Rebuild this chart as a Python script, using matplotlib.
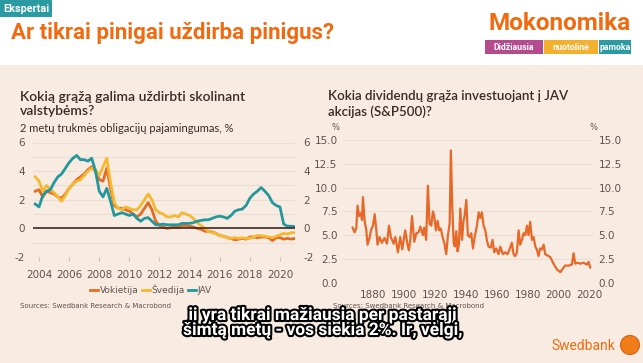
import numpy as np
import matplotlib
matplotlib.use('Agg')
import matplotlib.pyplot as plt
from matplotlib.patches import Rectangle, Circle
import matplotlib.patheffects as pe

plt.rcParams['axes.unicode_minus'] = False

# bond yields (2y), quarterly
bond_dates = np.arange(2003.75, 2021.01, 0.25)
germany = [2.6, 2.7, 2.2, 2.6, 2.5, 2.4, 2.2, 2.1, 2.4, 2.8, 3.1, 3.4, 3.6, 3.8, 4.1, 4.3, 4.0,
           3.4, 3.3, 4.2, 2.8, 1.6, 1.4, 1.4, 1.3, 1.2, 1.0, 0.8, 1.0, 1.4, 1.8, 1.3, 0.5,
           0.2, 0.1, 0.0, 0.05, 0.1, 0.05, 0.2, 0.2, 0.15, 0.1, 0.0, -0.05, -0.2, -0.2, -0.25,
           -0.35, -0.5, -0.55, -0.65, -0.7, -0.8, -0.75, -0.7, -0.75, -0.6, -0.6, -0.65, -0.6,
           -0.6, -0.65, -0.85, -0.65, -0.65, -0.75, -0.7, -0.75, -0.7]
sweden = [3.6, 3.3, 2.6, 3.0, 2.7, 2.5, 2.2, 1.9, 2.3, 2.8, 3.1, 3.3, 3.4, 3.7, 4.0, 4.2, 4.1,
          3.7, 4.3, 4.9, 3.2, 1.8, 1.4, 1.3, 1.5, 1.4, 1.3, 1.3, 1.6, 2.0, 2.4, 2.0, 1.3,
          1.1, 1.0, 0.8, 0.8, 0.9, 0.8, 1.1, 1.0, 0.9, 0.7, 0.4, 0.2, 0.0, -0.2, -0.3,
          -0.35, -0.5, -0.55, -0.65, -0.7, -0.65, -0.7, -0.65, -0.7, -0.7, -0.6, -0.5, -0.5,
          -0.55, -0.6, -0.65, -0.55, -0.45, -0.35, -0.4, -0.3, -0.3]
usa = [1.7, 1.5, 2.3, 2.6, 2.7, 3.2, 3.6, 3.8, 4.2, 4.6, 4.9, 5.1, 4.8, 4.8, 4.7, 4.9, 4.0,
       2.6, 2.2, 2.8, 1.9, 0.9, 1.0, 1.1, 1.0, 0.9, 1.0, 0.7, 0.5, 0.7, 0.75, 0.5, 0.25,
       0.25, 0.3, 0.25, 0.25, 0.25, 0.25, 0.35, 0.35, 0.35, 0.4, 0.5, 0.55, 0.6, 0.6, 0.7,
       0.8, 0.85, 0.8, 0.7, 0.9, 1.2, 1.3, 1.35, 1.6, 2.1, 2.4, 2.6, 2.85, 2.6, 2.3, 1.8,
       1.6, 1.5, 0.3, 0.15, 0.15, 0.12]

# S&P500 dividend yield
div_years = [1866.6, 1867.9, 1869.0, 1869.8, 1870.9, 1872.0, 1872.7, 1873.3, 1874.4, 1875.5,
             1876.3, 1877.6, 1878.5, 1879.8, 1880.9, 1881.7, 1882.8, 1884.1, 1885.6, 1887.3,
             1888.9, 1890.2, 1891.4, 1893.2, 1894.3, 1896.0, 1897.5, 1898.8, 1900.7, 1902.2,
             1903.1, 1904.0, 1905.1, 1906.6, 1907.9, 1909.4, 1910.5, 1912.2, 1913.0, 1914.3,
             1915.4, 1916.5, 1917.6, 1918.7, 1919.5, 1920.6, 1921.7, 1922.8, 1923.8, 1924.9,
             1926.0, 1927.3, 1928.4, 1929.5, 1930.3, 1931.2, 1932.1, 1932.9, 1933.8, 1934.6,
             1935.5, 1936.4, 1937.5, 1938.5, 1939.2, 1940.3, 1941.3, 1942.4, 1943.5, 1944.6,
             1945.7, 1947.2, 1948.3, 1949.3, 1950.4, 1951.5, 1952.6, 1953.6, 1954.7, 1956.2,
             1957.3, 1958.4, 1959.7, 1961.2, 1962.3, 1964.0, 1965.5, 1967.0, 1968.3, 1969.8,
             1970.9, 1972.0, 1973.1, 1974.2, 1975.2, 1976.3, 1977.4, 1978.5, 1979.6, 1980.6,
             1981.7, 1982.8, 1983.9, 1985.0, 1986.0, 1987.1, 1988.2, 1989.3, 1990.4, 1991.4,
             1992.5, 1994.7, 1996.8, 1999.0, 2001.2, 2002.9, 2004.4, 2006.6, 2008.7, 2009.8,
             2010.9, 2012.4, 2014.1, 2016.3, 2018.5, 2019.5, 2020.6]
div_yield = [5.8, 5.3, 5.7, 8.1, 7.0, 7.3, 6.6, 9.0, 6.5, 5.5,
             4.0, 4.7, 5.5, 6.0, 7.2, 6.0, 4.0, 4.8, 4.2, 4.7,
             4.1, 6.0, 4.8, 4.1, 4.8, 3.2, 4.8, 3.5, 5.5, 4.0,
             3.4, 4.5, 7.0, 4.3, 5.2, 5.3, 5.9, 5.0, 5.8, 4.5,
             10.2, 6.2, 6.0, 7.5, 7.0, 5.5, 6.5, 5.5, 5.7, 4.8,
             4.2, 3.0, 5.0, 6.2, 13.9, 8.0, 4.2, 3.8, 5.4, 3.3,
             4.0, 7.8, 4.5, 6.5, 7.0, 8.7, 5.0, 4.8, 5.2, 3.6,
             4.8, 6.0, 7.4, 6.8, 7.4, 6.0, 5.5, 4.5, 3.8, 3.7,
             4.5, 3.2, 3.6, 3.0, 3.8, 3.0, 3.2, 3.0, 3.5, 4.2,
             3.0, 2.8, 3.2, 5.5, 4.0, 4.5, 5.2, 5.0, 6.0, 5.0,
             6.4, 4.5, 4.8, 3.8, 3.5, 2.8, 3.6, 3.5, 4.0, 3.0,
             2.9, 2.7, 2.0, 1.4, 1.1, 1.5, 1.8, 1.8, 1.9, 3.1,
             2.0, 2.1, 2.0, 2.1, 1.9, 2.2, 1.6]

W, H = 643, 363
BEIGE = '#f8ece2'
ORANGE = '#f26a10'
TEAL = '#2a9aa3'
TXT = '#3b2a25'
GRAY = '#5e524d'
GRID = '#eaddd3'

fig = plt.figure(figsize=(W / 100, H / 100), dpi=100)
fig.patch.set_facecolor('white')

def box(x0, y0, x1, y1):
    # pixel box -> figure fraction rect
    return [x0 / W, 1 - y1 / H, (x1 - x0) / W, (y1 - y0) / H]

# background / decorations in pixel coordinates
bg = fig.add_axes([0, 0, 1, 1])
bg.set_xlim(0, W)
bg.set_ylim(H, 0)
bg.axis('off')
bg.add_patch(Rectangle((0, 65), W, H - 65, color=BEIGE, lw=0))
bg.add_patch(Rectangle((0, 0), 52, 17, color=TEAL, lw=0))
bg.text(3, 8.5, 'Ekspertai', color='white', fontsize=7.8, fontweight='bold',
        family='Roboto', va='center', ha='left')
bg.text(11, 33, 'Ar tikrai pinigai uždirba pinigus?', color=ORANGE, fontsize=16,
        fontweight='bold', family='Roboto', va='center', ha='left')
bg.text(631, 23, 'Mokonomika', color=ORANGE, fontsize=17.5, fontweight='bold',
        family='Roboto', va='center', ha='right')
for x0, x1, col, lab in [(485, 543, '#b54a8e', 'Didžiausia'),
                         (544, 598, '#f3b02c', 'nuotolinė'),
                         (599, 631, TEAL, 'pamoka')]:
    bg.add_patch(Rectangle((x0, 40), x1 - x0, 14, color=col, lw=0))
    bg.text((x0 + x1) / 2, 47, lab, color='white', fontsize=6.3, fontweight='bold',
            family='Roboto', va='center', ha='center')

# chart titles
bg.text(20, 104, 'Kokią grąžą galima uždirbti skolinant\nvalstybėms?', color=TXT,
        fontsize=10, fontweight='semibold', family='Lato', va='center', ha='left',
        linespacing=1.25)
bg.text(20, 128, '2 metų trukmės obligacijų pajamingumas, %', color=TXT, fontsize=8,
        family='Lato', va='center', ha='left')
bg.text(328, 104, 'Kokia dividendų grąža investuojant į JAV\nakcijas (S&P500)?', color=TXT,
        fontsize=9.6, fontweight='semibold', family='Lato', va='center', ha='left',
        linespacing=1.25)
bg.text(20, 306, 'Sources: Swedbank Research & Macrobond', color=GRAY, fontsize=5,
        va='center', ha='left')
bg.text(333, 306, 'Sources: Swedbank Research & Macrobond', color=GRAY, fontsize=5,
        va='center', ha='left')
bg.text(336, 127, '%', color=GRAY, fontsize=6, va='center', ha='center')
bg.text(594, 127, '%', color=GRAY, fontsize=6, va='center', ha='center')

# Swedbank logo
bg.text(615, 346, 'Swedbank', color=ORANGE, fontsize=10, family='Roboto',
        va='center', ha='right')
bg.add_patch(Circle((630, 345), 9.5, color='#f07d1a', ec='#d86010', lw=0.8))

# left chart
ax1 = fig.add_axes(box(33, 142.5, 295, 257))
ax1.set_facecolor('none')
ax1.plot(bond_dates, germany, color='#e56a22', lw=2.0, label='Vokietija')
ax1.plot(bond_dates, sweden, color='#f6b830', lw=2.0, label='Švedija')
ax1.plot(bond_dates, usa, color='#24979c', lw=2.0, label='JAV')
ax1.axhline(0, color='#3b2a25', lw=1.2, zorder=5)
ax1.set_xlim(2003.6, 2021.0)
ax1.set_ylim(-2, 6)
ax1.set_yticks([-2, 0, 2, 4, 6])
ax1.set_yticks(range(-2, 7), minor=True)
ax1.set_xticks(range(2004, 2021, 2))
ax1.grid(axis='y', which='both', color=GRID, lw=0.8)
ax1.tick_params(axis='y', which='both', length=0, labelsize=7.5, labelcolor=GRAY,
                left=True, right=True, labelleft=True, labelright=True, pad=6)
ax1.tick_params(axis='x', length=3, color='#cbbdb3', labelsize=7.5, labelcolor=GRAY, pad=6)
for s in ax1.spines.values():
    s.set_visible(False)
ax1.legend(loc='upper center', bbox_to_anchor=(0.45, -0.17), ncol=3, frameon=False,
           fontsize=6.5, handlelength=0.9, handletextpad=0.2, columnspacing=0.3,
           labelcolor=GRAY)

# right chart
ax2 = fig.add_axes(box(343, 140, 593, 282.7))
ax2.set_facecolor('none')
ax2.plot(div_years, div_yield, color='#e7692a', lw=1.6)
ax2.set_xlim(1860.4, 2022.4)
ax2.set_ylim(0, 15)
ax2.set_yticks(np.arange(0, 15.1, 2.5))
ax2.set_yticklabels(['0.0', '2.5', '5.0', '7.5', '10.0', '12.5', '15.0'])
ax2.set_xticks(range(1880, 2021, 20))
ax2.grid(axis='y', color=GRID, lw=0.8)
ax2.tick_params(axis='y', length=0, labelsize=7.5, labelcolor=GRAY,
                labelleft=True, labelright=True, pad=4)
ax2.tick_params(axis='x', length=0, labelsize=7.5, labelcolor=GRAY, pad=5)
for s in ax2.spines.values():
    s.set_visible(False)

# video subtitle overlay
fig.text(323 / W, 1 - 323 / H, 'jį yra tikrai mažiausia per pastarąjį\nšimtą metų - vos siekia 2%. Ir, vėlgi,',
         color='white', fontsize=12.5, fontweight='bold', family='Roboto', ha='center',
         va='center', linespacing=1.0, zorder=10,
         path_effects=[pe.withStroke(linewidth=3, foreground='black')])

fig.savefig('out.png', dpi=100, facecolor=fig.get_facecolor())
